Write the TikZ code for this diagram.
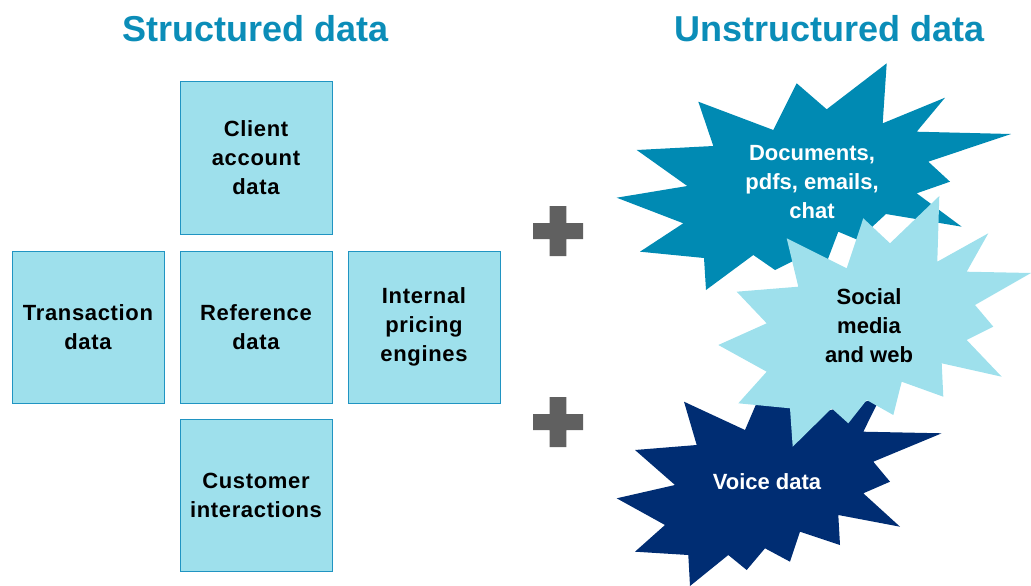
\documentclass[tikz,border=0pt]{standalone}
\usepackage{fontspec}
\setmainfont{Liberation Sans}
\newfontfamily\boxfont[LetterSpace=3]{Liberation Sans}
\definecolor{titleblue}{HTML}{0B8DB8}
\definecolor{boxfill}{HTML}{9EE0EC}
\definecolor{boxline}{HTML}{2094C2}
\definecolor{teal}{HTML}{008AB3}
\definecolor{navy}{HTML}{002D73}
\definecolor{plusgray}{HTML}{606060}
\tikzset{
  title/.style={font=\fontsize{36}{40}\selectfont\bfseries, text=titleblue},
  databox/.style={draw=boxline, line width=1pt, fill=boxfill, minimum width=152pt, minimum height=152pt, inner sep=0pt, align=center, font=\boxfont\fontsize{22}{29}\selectfont\bfseries},
  startext/.style={align=center, font=\fontsize{22}{29}\selectfont\bfseries},
}
\begin{document}
\begin{tikzpicture}[x=1pt,y=-1pt]
\useasboundingbox (0,0) rectangle (1031,586);
% titles
\node[title] (t1) at (256,29) {Structured data};
\node[title] (t2) at (830,29) {Unstructured data};
% boxes
\node[databox] (client) at (256,158) {Client\\account\\data};
\node[databox] (trans) at (88,327) {Transaction\\data};
\node[databox] (ref) at (256,327) {Reference\\data};
\node[databox] (pricing) at (424,327) {Internal\\pricing\\engines};
\node[databox] (cust) at (256,495) {Customer\\interactions};
% plus signs
\foreach \cx/\cy in {558/231, 558/422}{
  \fill[plusgray] (\cx-8.3,\cy-25) -- (\cx+8.3,\cy-25) -- (\cx+8.3,\cy-8) -- (\cx+25,\cy-8) -- (\cx+25,\cy+8) -- (\cx+8.3,\cy+8) -- (\cx+8.3,\cy+25) -- (\cx-8.3,\cy+25) -- (\cx-8.3,\cy+8) -- (\cx-25,\cy+8) -- (\cx-25,\cy-8) -- (\cx-8.3,\cy-8) -- cycle;
}
% teal star
\fill[teal] (886.7,63.3) -- (882.7,123.3) -- (945,97.7) -- (916.7,131.7) -- (1011,134) -- (928.3,161.7) -- (950,181.7) -- (916.7,193.3) -- (961.7,226.7) -- (886,214) -- (858,240) -- (838.3,231.7) -- (823,272) -- (805,255) -- (775,270) -- (753.3,255) -- (706,290) -- (704,258) -- (640,251.7) -- (683.3,223.3) -- (616.7,197.7) -- (687.3,186) -- (636.7,150) -- (713.3,146) -- (698.3,101.7) -- (773.3,130) -- (796.7,83.3) -- (826.7,109.3) -- cycle;
% navy star
\fill[navy] (684,401.7) -- (745,430) -- (760,395) -- (810,415) -- (880,398) -- (863.3,431.7) -- (941.7,433.3) -- (873.3,461.7) -- (890,481.7) -- (863.3,493.3) -- (900,526.7) -- (838.3,515) -- (840,545) -- (800,531.7) -- (790,561.7) -- (765,548.3) -- (746.7,570) -- (728.3,555) -- (690,586) -- (688.3,555) -- (635,551.7) -- (665,525) -- (616.7,498.3) -- (675,485) -- (635,450) -- (696.7,445) -- cycle;
% light star
\fill[boxfill] (939.3,196) -- (937.3,261.7) -- (988.3,233.3) -- (966.7,271.7) -- (1031,273) -- (975,305) -- (993.3,326.7) -- (966.7,340) -- (1001.7,376.7) -- (941.7,363.3) -- (943.3,396.7) -- (901.7,381.7) -- (893.3,415) -- (866.7,400) -- (848.3,423.3) -- (831.7,408.3) -- (792.7,446.7) -- (790,408.3) -- (738.3,403.3) -- (766.7,371.7) -- (718.3,345) -- (766.7,323.3) -- (736.7,291.7) -- (798.3,286.7) -- (786.7,238.3) -- (846.7,268.3) -- (863.3,218.3) -- (890,243.3) -- cycle;
% star texts
\node[startext, text=white] (docs) at (812,182) {Documents,\\pdfs, emails,\\chat};
\node[startext, text=black] (social) at (869,326) {Social\\media\\and web};
\node[startext, text=white] (voice) at (767,482) {Voice data};
\end{tikzpicture}
\end{document}
